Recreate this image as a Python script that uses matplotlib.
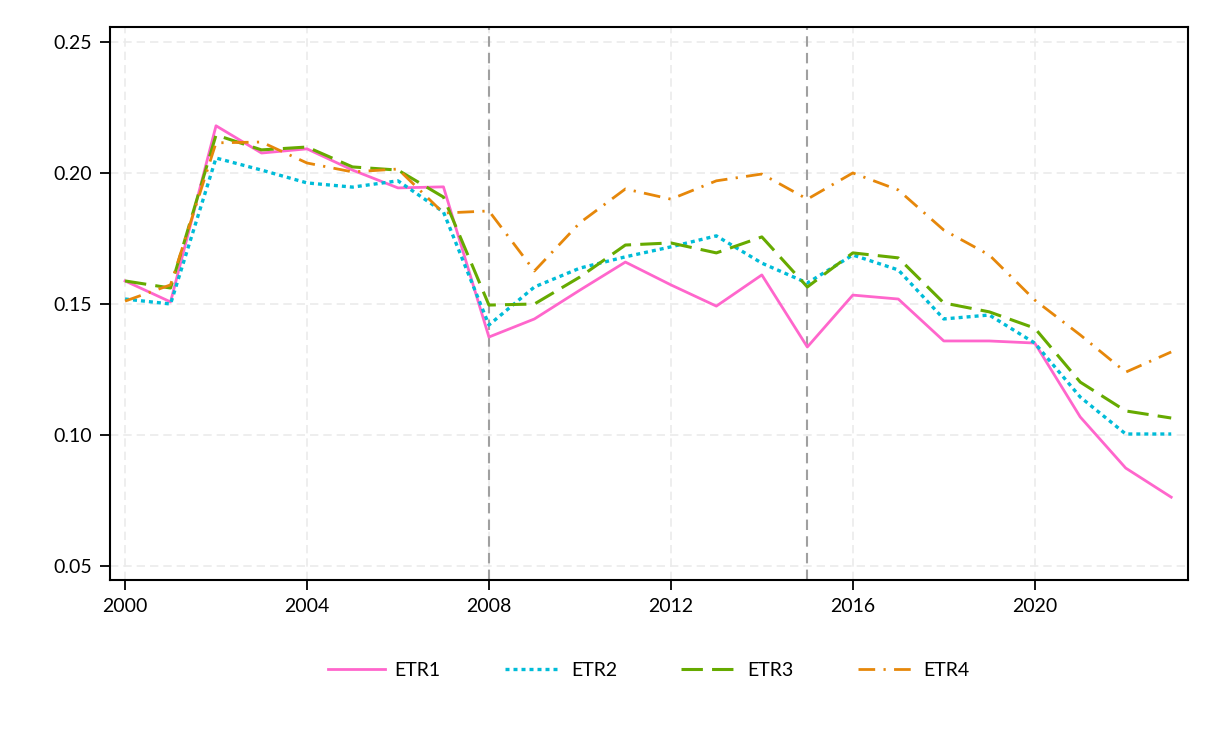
import matplotlib
matplotlib.use("Agg")
import matplotlib.pyplot as plt

years = list(range(2000, 2024))
etr1 = [0.1588, 0.1508, 0.2180, 0.2076, 0.2092, 0.2011, 0.1943, 0.1947, 0.1374, 0.1443,
        0.1553, 0.1660, 0.1573, 0.1492, 0.1611, 0.1336, 0.1534, 0.1519, 0.1359, 0.1359,
        0.1351, 0.1069, 0.0874, 0.0763]
etr2 = [0.1519, 0.1500, 0.2057, 0.2011, 0.1962, 0.1946, 0.1970, 0.1851, 0.1420, 0.1565,
        0.1637, 0.1680, 0.1718, 0.1760, 0.1656, 0.1580, 0.1687, 0.1630, 0.1443, 0.1458,
        0.1351, 0.1145, 0.1004, 0.1004]
etr3 = [0.1588, 0.1561, 0.2145, 0.2088, 0.2099, 0.2023, 0.2011, 0.1908, 0.1496, 0.1500,
        0.1603, 0.1725, 0.1733, 0.1695, 0.1756, 0.1565, 0.1695, 0.1676, 0.1504, 0.1470,
        0.1408, 0.1202, 0.1092, 0.1065]
etr4 = [0.1511, 0.1573, 0.2115, 0.2118, 0.2038, 0.2004, 0.2015, 0.1847, 0.1855, 0.1626,
        0.1810, 0.1939, 0.1900, 0.1970, 0.1996, 0.1900, 0.2000, 0.1935, 0.1782, 0.1687,
        0.1515, 0.1382, 0.1240, 0.1317]
labels = ["ETR1", "ETR2", "ETR3", "ETR4"]
event_years = [2008, 2015]
xticks = [2000, 2004, 2008, 2012, 2016, 2020]
yticks = [0.05, 0.10, 0.15, 0.20, 0.25]

plt.rcParams['font.family'] = ['Lato', 'DejaVu Sans']

fig = plt.figure(figsize=(12.16, 7.29), dpi=100)
ax = fig.add_axes([0.0905, 0.2044, 0.8865, 0.7586])

styles = [
    dict(color='#ff66cc', linestyle='-', lw=2.0),
    dict(color='#00bcd8', linestyle=(0, (1.2, 1.2)), lw=2.4),
    dict(color='#66aa00', linestyle=(0, (7, 3)), lw=2.2),
    dict(color='#e6870a', linestyle=(0, (6, 3, 0.8, 3)), lw=2.0),
]
for data, lab, st in zip([etr1, etr2, etr3, etr4], labels, styles):
    ax.plot(years, data, label=lab, **st)

for ey in event_years:
    ax.axvline(ey, color='#a0a0a0', linestyle=(0, (5, 3)), lw=1.5, zorder=1)

ax.set_xlim(1999.67, 2023.37)
ax.set_ylim(0.0447, 0.2557)
ax.set_xticks(xticks)
ax.set_yticks(yticks)
ax.set_yticklabels([f"{v:.2f}" for v in yticks])
ax.grid(True, color='#ebebeb', linestyle=(0, (5, 3)), lw=1.2, zorder=0)
ax.set_axisbelow(True)
for s in ax.spines.values():
    s.set_linewidth(1.5)
    s.set_color('black')
ax.tick_params(axis='both', direction='out', length=7, width=1.3, labelsize=14,
               colors='black', pad=6)

ax.legend(loc='center', bbox_to_anchor=(0.5, -0.163), ncol=4, frameon=False,
          fontsize=14, handlelength=2.9, handletextpad=0.5, columnspacing=3.3)

fig.savefig("out.png", dpi=100)
